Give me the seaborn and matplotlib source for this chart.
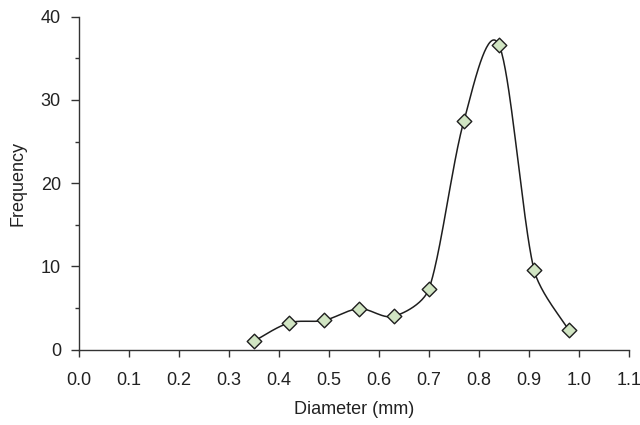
import numpy as np
import pandas as pd
import matplotlib
matplotlib.use("Agg")
import matplotlib.pyplot as plt
from matplotlib.ticker import MultipleLocator
import seaborn as sns

# 数据
diameter = [0.35, 0.42, 0.49, 0.56, 0.63, 0.70, 0.77, 0.84, 0.91, 0.98]
frequency = [1.0, 3.2, 3.5, 4.9, 4.0, 7.3, 27.5, 36.6, 9.6, 2.3]
x_ticks = [0.0, 0.1, 0.2, 0.3, 0.4, 0.5, 0.6, 0.7, 0.8, 0.9, 1.0, 1.1]
y_ticks = [0, 10, 20, 30, 40]


def smooth_curve(xs, ys, sx=500.0, sy=8.32, n=40):
    """类似 Excel 平滑线：Catmull-Rom 贝塞尔，控制柄长度限制在段长 1/3 以内（像素比例下计算）"""
    p = np.column_stack([np.array(xs) * sx, np.array(ys) * sy])
    p = np.vstack([p[0], p, p[-1]])
    out = []
    t = np.linspace(0, 1, n)[:, None]
    for i in range(1, len(p) - 2):
        p0, p1, p2, p3 = p[i - 1], p[i], p[i + 1], p[i + 2]
        d12 = np.hypot(*(p2 - p1))
        v1 = (p2 - p0) / 6
        v2 = (p3 - p1) / 6
        lim = d12 / 3
        if np.hypot(*v1) > lim:
            v1 = v1 * lim / np.hypot(*v1)
        if np.hypot(*v2) > lim:
            v2 = v2 * lim / np.hypot(*v2)
        b1 = p1 + v1
        b2 = p2 - v2
        seg = ((1 - t) ** 3) * p1 + 3 * ((1 - t) ** 2) * t * b1 + 3 * (1 - t) * t ** 2 * b2 + t ** 3 * p2
        out.append(seg if i == 1 else seg[1:])
    out = np.vstack(out)
    return out[:, 0] / sx, out[:, 1] / sy


sns.set_style("white")
plt.rcParams['font.family'] = ['Liberation Sans', 'DejaVu Sans']

cx, cy = smooth_curve(diameter, frequency)
curve = pd.DataFrame({"x": cx, "y": cy})
pts = pd.DataFrame({"Diameter": diameter, "Frequency": frequency})

fig = plt.figure(figsize=(6.4, 4.25), dpi=100)
ax = fig.add_axes([0.1234, 0.1776, 0.8594, 0.7831])

sns.lineplot(data=curve, x="x", y="y", sort=False, color="#1e1e1e", linewidth=1.1, ax=ax)
sns.scatterplot(data=pts, x="Diameter", y="Frequency", marker="D", s=55,
                color="#d1e5c3", edgecolor="#1e1e1e", linewidth=1.0, zorder=3, ax=ax)

ax.set_xlim(0, 1.1)
ax.set_ylim(0, 40)
ax.set_xticks(x_ticks)
ax.set_xticklabels([f"{v:.1f}" for v in x_ticks])
ax.set_yticks(y_ticks)
ax.yaxis.set_minor_locator(MultipleLocator(5))

for s in ["top", "right"]:
    ax.spines[s].set_visible(False)
for s in ["left", "bottom"]:
    ax.spines[s].set_color("#333333")
    ax.spines[s].set_linewidth(1.0)

ax.tick_params(axis="both", which="major", direction="out", width=1.0,
               color="#333333", labelsize=13, labelcolor="#222222", bottom=True, left=True)
ax.tick_params(axis="x", which="major", length=5, pad=11)
ax.tick_params(axis="y", which="major", length=6, pad=7)
ax.tick_params(axis="y", which="minor", direction="out", length=3, width=1.0,
               color="#333333", left=True)

ax.set_xlabel("Diameter (mm)", fontsize=13, color="#222222", labelpad=9)
ax.set_ylabel("Frequency", fontsize=13, color="#222222", labelpad=10)

fig.savefig("out.png", dpi=100)
